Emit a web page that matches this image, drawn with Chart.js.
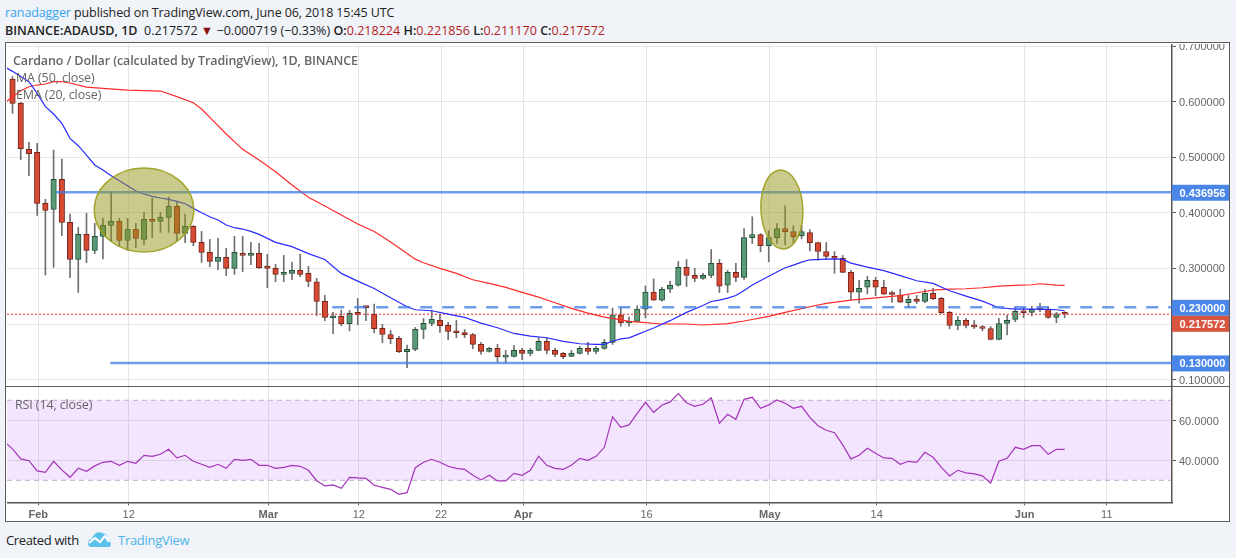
<!DOCTYPE html>
<html>
<head>
<meta charset="utf-8">
<title>ADAUSD</title>
<script src="https://cdn.jsdelivr.net/npm/chart.js@4"></script>
<style>
    html, body { margin: 0; padding: 0; width: 1236px; height: 558px; overflow: hidden; background: #f0f3f7; }
    body { font-family: "Open Sans", sans-serif; color: #222; position: relative; }
    #frame { position: absolute; left: 5px; top: 42px; width: 1223px; height: 478px; background: #fff; border: 1.5px solid #5d5d5d; }
    canvas { position: absolute; }
    #priceChart { left: 7px; top: 44px; }
    #rsiChart { left: 7px; top: 387px; }
    #divider { position: absolute; left: 6px; top: 385.5px; width: 1223px; height: 1.5px; background: #5d5d5d; }
    .head { position: absolute; left: 5px; font-size: 12.5px; white-space: nowrap; }
    .head b { font-weight: 600; color: #222; }
    .red { color: #b01c1c; }
    .over { position: absolute; color: #666; font-size: 12.5px; white-space: nowrap; letter-spacing: -0.12px; }
    #foot1 { position: absolute; left: 6px; top: 531px; font-size: 13px; color: #222; letter-spacing: -0.36px; }
    #foot2 { position: absolute; left: 118px; top: 531px; font-size: 13px; color: #4fb3e8; letter-spacing: -0.28px; }
    #logo { position: absolute; left: 87px; top: 530px; }
</style>
</head>
<body>
<div class="head" style="top:4px;letter-spacing:-0.11px"><span style="color:#37a6ef">ranadagger</span> published on TradingView.com, June 06, 2018 15:45 UTC</div>
<div class="head" style="top:22px;letter-spacing:0.02px"><b>BINANCE:ADAUSD, 1D</b>&nbsp; 0.217572 <span style="color:#8b0f0f">&#9660;</span> &minus;0.000719 (&minus;0.33%) <b>O:</b><span class="red">0.218224</span> <b>H:</b><span class="red">0.221856</span> <b>L:</b><span class="red">0.211170</span> <b>C:</b><span class="red">0.217572</span></div>
<div id="frame"></div>
<canvas id="priceChart"></canvas>
<canvas id="rsiChart"></canvas>
<div id="divider"></div>
<div class="over" style="left:13px;top:52px;font-weight:600">Cardano / Dollar (calculated by TradingView), 1D, BINANCE</div>
<div class="over" style="left:16px;top:69px">MA (50, close)</div>
<div class="over" style="left:16px;top:86px">EMA (20, close)</div>
<div class="over" style="left:15px;top:396px">RSI (14, close)</div>
<div id="foot1">Created with</div>
<svg id="logo" width="25" height="18" viewBox="0 0 25 18">
    <path d="M1 15 C0 11 3 9 5 9 C6 4 11 1 15 3 C18 3 21 6 20 9 C23 10 25 13 23 17 L3 17 Z" fill="#5cc0ea"/>
    <path d="M2 13 L8 8 L13 12 L18 6 L22 12" fill="none" stroke="#fff" stroke-width="2"/>
</svg>
<div id="foot2">TradingView</div>

<script>
// candles, day 0 = Jan 29 2018
const opens = [
    0.6406, 0.5969, 0.5141, 0.5087, 0.4170, 0.4062, 0.4602, 0.3828, 0.3163, 0.3612,
    0.3325, 0.3577, 0.3774, 0.3846, 0.3505, 0.3702, 0.3523, 0.3882, 0.3846, 0.3918,
    0.4116, 0.3631, 0.3756, 0.3469, 0.3289, 0.3127, 0.3199, 0.3001, 0.3271, 0.3235,
    0.3271, 0.3019, 0.3001, 0.2893, 0.2911, 0.2965, 0.2911, 0.2760, 0.2406, 0.2112,
    0.2136, 0.2004, 0.2190, 0.2300, 0.2172, 0.1920, 0.1812, 0.1741, 0.1501, 0.1543,
    0.1902, 0.2010, 0.2064, 0.1974, 0.1866, 0.1848, 0.1812, 0.1633, 0.1507, 0.1561,
    0.1405, 0.1417, 0.1525, 0.1471, 0.1525, 0.1687, 0.1525, 0.1471, 0.1417, 0.1471,
    0.1561, 0.1507, 0.1561, 0.1669, 0.2167, 0.2018, 0.2048, 0.2268, 0.2572, 0.2429,
    0.2625, 0.2697, 0.3018, 0.2875, 0.2822, 0.2875, 0.3090, 0.2697, 0.2929, 0.2840,
    0.3554, 0.3608, 0.3411, 0.3554, 0.3715, 0.3661, 0.3590, 0.3643, 0.3465, 0.3304,
    0.3215, 0.3179, 0.2929, 0.2572, 0.2661, 0.2786, 0.2661, 0.2536, 0.2518, 0.2385,
    0.2442, 0.2406, 0.2550, 0.2460, 0.2208, 0.1973, 0.2064, 0.1973, 0.1937, 0.1919,
    0.1721, 0.2009, 0.2082, 0.2226, 0.2208, 0.2262, 0.2262, 0.2118, 0.2182
];
const highs = [
    0.6450, 0.5990, 0.5267, 0.5249, 0.4242, 0.5129, 0.4967, 0.3978, 0.3738, 0.3990,
    0.3810, 0.3900, 0.4368, 0.3900, 0.3900, 0.3810, 0.4008, 0.4260, 0.4008, 0.4284,
    0.4188, 0.3978, 0.3770, 0.3666, 0.3522, 0.3541, 0.3361, 0.3577, 0.3577, 0.3469,
    0.3451, 0.3253, 0.3073, 0.3235, 0.3109, 0.3253, 0.3037, 0.2820, 0.2514, 0.2208,
    0.2250, 0.2244, 0.2460, 0.2310, 0.2358, 0.1992, 0.1884, 0.1777, 0.1621, 0.1938,
    0.2100, 0.2250, 0.2172, 0.2028, 0.2064, 0.1902, 0.1830, 0.1669, 0.1579, 0.1633,
    0.1525, 0.1615, 0.1561, 0.1561, 0.1753, 0.1753, 0.1561, 0.1489, 0.1525, 0.1597,
    0.1669, 0.1597, 0.1723, 0.2286, 0.2286, 0.2125, 0.2328, 0.2685, 0.2810, 0.2661,
    0.2768, 0.3125, 0.3161, 0.3000, 0.2911, 0.3340, 0.3161, 0.2965, 0.3090, 0.3715,
    0.3929, 0.3625, 0.3679, 0.3804, 0.4125, 0.3768, 0.3768, 0.3697, 0.3475, 0.3465,
    0.3304, 0.3233, 0.2965, 0.2786, 0.2858, 0.2840, 0.2786, 0.2590, 0.2625, 0.2514,
    0.2514, 0.2622, 0.2640, 0.2478, 0.2226, 0.2136, 0.2100, 0.2064, 0.1973, 0.1955,
    0.2100, 0.2154, 0.2298, 0.2298, 0.2316, 0.2370, 0.2316, 0.2208, 0.2219
];
const lows = [
    0.5789, 0.4955, 0.4668, 0.3954, 0.2881, 0.3019, 0.3589, 0.2833, 0.2569, 0.3103,
    0.3265, 0.3169, 0.3481, 0.3391, 0.3325, 0.3373, 0.3427, 0.3553, 0.3649, 0.3649,
    0.3499, 0.3463, 0.3409, 0.3109, 0.3031, 0.2977, 0.2869, 0.2893, 0.2941, 0.3067,
    0.3001, 0.2653, 0.2761, 0.2761, 0.2797, 0.2851, 0.2671, 0.2148, 0.2058, 0.1824,
    0.1968, 0.1878, 0.1986, 0.2058, 0.1842, 0.1662, 0.1645, 0.1483, 0.1213, 0.1519,
    0.1735, 0.1968, 0.1848, 0.1717, 0.1753, 0.1753, 0.1555, 0.1459, 0.1495, 0.1315,
    0.1297, 0.1405, 0.1357, 0.1429, 0.1519, 0.1465, 0.1411, 0.1375, 0.1411, 0.1459,
    0.1453, 0.1465, 0.1543, 0.1633, 0.1959, 0.1959, 0.2036, 0.2108, 0.2423, 0.2411,
    0.2566, 0.2679, 0.2673, 0.2762, 0.2804, 0.2834, 0.2566, 0.2566, 0.2762, 0.2804,
    0.3447, 0.3298, 0.3120, 0.3447, 0.3423, 0.3459, 0.3536, 0.3316, 0.3149, 0.3161,
    0.2911, 0.2923, 0.2435, 0.2375, 0.2542, 0.2506, 0.2530, 0.2387, 0.2387, 0.2298,
    0.2370, 0.2382, 0.2436, 0.2190, 0.1913, 0.1895, 0.1931, 0.1919, 0.1877, 0.1715,
    0.1715, 0.1805, 0.2040, 0.2112, 0.2148, 0.2220, 0.2100, 0.2022, 0.2112
];
const closes = [
    0.5969, 0.5153, 0.5063, 0.4170, 0.4044, 0.4602, 0.3828, 0.3163, 0.3612, 0.3325,
    0.3577, 0.3774, 0.3846, 0.3505, 0.3702, 0.3541, 0.3882, 0.3846, 0.3918, 0.4116,
    0.3631, 0.3756, 0.3469, 0.3289, 0.3127, 0.3199, 0.3001, 0.3289, 0.3235, 0.3271,
    0.3013, 0.3001, 0.2893, 0.2911, 0.2965, 0.2893, 0.2767, 0.2406, 0.2118, 0.2136,
    0.2004, 0.2190, 0.2172, 0.2295, 0.1914, 0.1812, 0.1735, 0.1501, 0.1543, 0.1902,
    0.2010, 0.2082, 0.1968, 0.1866, 0.1842, 0.1806, 0.1633, 0.1507, 0.1561, 0.1411,
    0.1417, 0.1525, 0.1471, 0.1525, 0.1687, 0.1525, 0.1453, 0.1411, 0.1471, 0.1561,
    0.1507, 0.1561, 0.1669, 0.2167, 0.2018, 0.2054, 0.2268, 0.2572, 0.2429, 0.2625,
    0.2697, 0.3018, 0.2875, 0.2822, 0.2875, 0.3090, 0.2679, 0.2929, 0.2840, 0.3554,
    0.3608, 0.3411, 0.3554, 0.3715, 0.3661, 0.3572, 0.3661, 0.3465, 0.3304, 0.3215,
    0.3179, 0.2929, 0.2572, 0.2643, 0.2786, 0.2661, 0.2536, 0.2530, 0.2393, 0.2445,
    0.2406, 0.2550, 0.2454, 0.2202, 0.1973, 0.2064, 0.1973, 0.1949, 0.1919, 0.1721,
    0.2009, 0.2064, 0.2226, 0.2202, 0.2262, 0.2256, 0.2118, 0.2183, 0.2176
];

// EMA 20 (blue) and MA 50 (red), read at these days
const emaDays = [-1, 0, 2, 3, 4, 5, 6, 7, 8, 9, 10, 11, 12, 13, 14, 15, 16, 17, 18, 19, 20, 21, 22, 23, 24, 25, 26, 27, 28, 29, 30, 32, 34, 36,
    38, 40, 42, 44, 46, 48, 49, 51, 53, 55, 57, 59, 61, 63, 65, 67, 69, 71, 72, 73, 74, 75, 76, 77, 78, 80, 82, 84, 85, 86, 87, 88, 89, 90, 92, 94, 95, 96, 97, 99, 100, 101, 102, 104, 106, 108,
    110, 112, 114, 116, 118, 120, 122, 124, 126, 127, 128];
const emaValues = [0.6628, 0.6544, 0.6358, 0.6148, 0.5909, 0.5777, 0.5609, 0.5339, 0.5207, 0.5039, 0.4860, 0.4770, 0.4668, 0.4578, 0.4488, 0.4392, 0.4338, 0.4296, 0.4266, 0.4242, 0.4206, 0.4164, 0.4080, 0.4002, 0.3930, 0.3870, 0.3780, 0.3732, 0.3708, 0.3666, 0.3612, 0.3469, 0.3391, 0.3265,
    0.3161, 0.2910, 0.2772, 0.2640, 0.2472, 0.2310, 0.2256, 0.2238, 0.2178, 0.2118, 0.2016, 0.1932, 0.1830, 0.1783, 0.1753, 0.1687, 0.1645, 0.1633, 0.1633, 0.1690, 0.1733, 0.1751, 0.1810, 0.1870, 0.1929, 0.2060, 0.2209, 0.2334, 0.2405, 0.2429, 0.2465, 0.2512, 0.2602, 0.2703, 0.2858, 0.3012, 0.3060, 0.3114, 0.3155, 0.3167, 0.3173, 0.3161, 0.3096, 0.3024, 0.2959, 0.2869,
    0.2778, 0.2730, 0.2598, 0.2502, 0.2412, 0.2292, 0.2268, 0.2268, 0.2262, 0.2256, 0.2238];
const maDays = [-1, 0, 1, 2, 3, 4, 5, 6, 7, 9, 11, 14, 18, 20, 22, 23, 24, 26, 28, 30, 32, 34, 36, 38, 40, 42,
    44, 46, 48, 49, 50, 52, 54, 56, 58, 60, 62, 64, 66, 68, 70, 72, 73, 75, 77, 79, 82, 84, 87, 89, 92, 94, 97, 99, 102, 105, 108,
    110, 112, 114, 116, 118, 120, 122, 124, 125, 127, 128];
const maValues = [0.5969, 0.6089, 0.6196, 0.6268, 0.6298, 0.6316, 0.6358, 0.6358, 0.6334, 0.6262, 0.6238, 0.6208, 0.6190, 0.6089, 0.5981, 0.5867, 0.5717, 0.5417, 0.5141, 0.4949, 0.4740, 0.4500, 0.4278, 0.4122, 0.3960, 0.3799,
    0.3665, 0.3473, 0.3269, 0.3167, 0.3101, 0.3000, 0.2910, 0.2796, 0.2730, 0.2658, 0.2568, 0.2484, 0.2382, 0.2280, 0.2196, 0.2124, 0.2102, 0.2048, 0.2024, 0.2000, 0.2000, 0.1982, 0.2006, 0.2054, 0.2137, 0.2209, 0.2310, 0.2370, 0.2429, 0.2471, 0.2510,
    0.2562, 0.2610, 0.2628, 0.2634, 0.2652, 0.2682, 0.2694, 0.2706, 0.2724, 0.2700, 0.2694];

// RSI 14, first value is day -1
const rsiValues = [
    49.3, 45.7, 40.7, 39.8, 34.7, 34.0, 39.5, 35.2, 31.5, 36.0, 34.5, 37.2, 39.0, 39.5, 37.5, 39.5, 38.5, 42.5, 42.0, 43.0,
    45.5, 41.2, 42.5, 39.5, 38.0, 36.5, 38.0, 36.0, 40.5, 40.0, 40.5, 37.5, 37.5, 36.0, 36.5, 37.5, 37.0, 35.0, 29.8, 27.2,
    27.7, 26.0, 31.5, 31.2, 31.0, 27.5, 26.5, 25.5, 23.0, 23.8, 36.3, 39.0, 40.5, 39.0, 37.0, 36.0, 35.5, 32.5, 30.2, 32.5,
    29.7, 29.7, 33.5, 32.5, 35.0, 42.0, 37.5, 36.0, 35.5, 37.5, 41.0, 40.0, 42.0, 46.5, 61.8, 56.5, 57.7, 63.5, 69.0, 64.0,
    67.5, 69.2, 73.3, 68.8, 67.0, 68.0, 71.3, 58.5, 63.0, 60.5, 70.5, 71.5, 66.0, 67.7, 70.2, 68.5, 66.0, 67.0, 61.5, 57.3,
    55.0, 53.8, 47.7, 40.7, 42.5, 46.0, 43.5, 41.2, 41.0, 38.0, 39.5, 39.0, 44.0, 41.5, 36.5, 32.2, 35.0, 33.7, 33.2, 32.2,
    28.5, 39.5, 41.0, 46.5, 45.5, 47.3, 47.3, 43.0, 45.5, 45.5
];

// axis ticks
const tickDays = [3, 14, 31, 42, 52, 62, 77, 92, 105, 123, 133];
const tickLabels = ['Feb', '12', 'Mar', '12', '22', 'Apr', '16', 'May', '14', 'Jun', '11'];
const monthLabels = ['Feb', 'Mar', 'Apr', 'May', 'Jun'];
const priceTicks = [0.1, 0.2, 0.3, 0.4, 0.5, 0.6, 0.7];
const rsiTicks = [40, 60];

// drawn levels
const levelValues = [0.436956, 0.23, 0.13];
const levelStartDays = [5.3, 38.9, 11.9];
const lastPrice = 0.217572;
const rsiBand = [30, 70];

// highlighted areas: day, price, radius in days, radius in price
const circleDays = [16.0, 93.6];
const circlePrices = [0.405, 0.4059];
const circleDayRadius = [6.05, 2.55];
const circlePriceRadius = [0.0755, 0.071];

const xMin = -0.67;
const xMax = 141.06;
const tickShift = 0.13; // gridlines sit about 1px right of the candle
const axisWidth = 57;

const grey = '#666666';
const gridColor = '#e6e6e6';
const axisColor = '#555555';
const up = '#5b9a78', upDark = '#245238';
const down = '#d64a34', downDark = '#76241a';
const levelColor = 'rgba(62,124,232,0.75)';

const days = opens.map((_, i) => i);
const isUp = i => closes[i] >= opens[i];

function flat(value, from, to) {
    return [{x: from, y: value}, {x: to, y: value}];
}

function fixAxis(scale, w, h) {
    if (w !== null) scale.width = w;
    if (h !== null) scale.height = h;
    scale.paddingLeft = scale.paddingRight = scale.paddingTop = scale.paddingBottom = 0;
}

function xTicks(scale) {
    scale.ticks = tickDays.map(d => ({value: d + tickShift}));
}

// tags on the price axis, pushed down when they would overlap
const tagPlugin = {
    id: 'tags',
    afterDatasetsDraw(chart) {
        const ctx = chart.ctx, y = chart.scales.y, right = chart.width;
        const tags = [
            {v: levelValues[0], c: '#4a86e8'},
            {v: levelValues[1], c: '#4a86e8'},
            {v: lastPrice, c: '#d8563f'},
            {v: levelValues[2], c: '#4a86e8'}
        ];
        let last = -100;
        ctx.save();
        ctx.font = 'bold 11px "Liberation Sans"';
        ctx.textBaseline = 'middle';
        tags.forEach(t => {
            let py = y.getPixelForValue(t.v) + 0.5;
            if (py - 8 < last) py = last + 8;
            last = py + 8;
            ctx.fillStyle = t.c;
            ctx.fillRect(y.left, py - 8, right - y.left, 16);
            ctx.fillStyle = '#fff';
            ctx.fillText(t.v.toFixed(6), y.left + 7.5, py + 1);
        });
        ctx.restore();
    }
};

const circlePlugin = {
    id: 'circles',
    afterDatasetsDraw(chart) {
        const ctx = chart.ctx, x = chart.scales.x, y = chart.scales.y;
        ctx.save();
        ctx.fillStyle = 'rgba(150,150,25,0.5)';
        ctx.strokeStyle = 'rgba(160,160,35,0.95)';
        ctx.lineWidth = 1.5;
        circleDays.forEach((d, i) => {
            const cx = x.getPixelForValue(d), cy = y.getPixelForValue(circlePrices[i]);
            const rx = x.getPixelForValue(d + circleDayRadius[i]) - cx;
            const ry = cy - y.getPixelForValue(circlePrices[i] + circlePriceRadius[i]);
            ctx.beginPath();
            ctx.ellipse(cx, cy, rx, ry, i === 1 ? -0.05 : 0, 0, Math.PI * 2);
            ctx.fill();
            ctx.stroke();
        });
        ctx.restore();
    }
};

const priceCanvas = document.getElementById('priceChart');
priceCanvas.width = 1222; priceCanvas.height = 342;
priceCanvas.style.width = '1222px'; priceCanvas.style.height = '342px';

const lineBase = {type: 'line', pointRadius: 0, fill: false, tension: 0};

const priceChart = new Chart(priceCanvas, {
    type: 'bar',
    data: {
        datasets: [
            {
                label: 'wick',
                data: days.map(i => ({x: i, y: [lows[i], highs[i]]})),
                backgroundColor: '#707070',
                barThickness: 1,
                grouped: false,
                order: 5
            },
            {
                label: 'body',
                data: days.map(i => ({x: i, y: [Math.min(opens[i], closes[i]), Math.max(opens[i], closes[i])]})),
                backgroundColor: days.map(i => isUp(i) ? up : down),
                borderColor: days.map(i => isUp(i) ? upDark : downDark),
                borderWidth: 1,
                borderSkipped: false,
                barThickness: 5.5,
                minBarLength: 2,
                grouped: false,
                order: 4
            },
            {...lineBase, label: 'MA (50, close)', data: maDays.map((d, i) => ({x: d, y: maValues[i]})), borderColor: '#ff2b2b', borderWidth: 1.2, order: 3},
            {...lineBase, label: 'EMA (20, close)', data: emaDays.map((d, i) => ({x: d, y: emaValues[i]})), borderColor: '#2b2bff', borderWidth: 1.2, order: 2},
            {...lineBase, label: 'last', data: flat(lastPrice, xMin, xMax), borderColor: '#e8281a', borderWidth: 1, borderDash: [2, 2], order: 2},
            {...lineBase, label: 'resistance', data: flat(levelValues[0], levelStartDays[0], xMax), borderColor: levelColor, borderWidth: 2.5, order: 1},
            {...lineBase, label: 'pivot', data: flat(levelValues[1], levelStartDays[1], xMax), borderColor: levelColor, borderWidth: 2.5, borderDash: [12, 10], order: 1},
            {...lineBase, label: 'support', data: flat(levelValues[2], levelStartDays[2], xMax), borderColor: levelColor, borderWidth: 2.5, order: 1}
        ]
    },
    options: {
        responsive: false,
        animation: false,
        layout: {padding: 0},
        plugins: {legend: {display: false}, tooltip: {enabled: false}},
        scales: {
            x: {
                type: 'linear',
                min: xMin,
                max: xMax,
                offset: false,
                afterBuildTicks: xTicks,
                afterFit: s => fixAxis(s, null, 0),
                grid: {color: gridColor, offset: false, drawTicks: false},
                ticks: {display: false},
                border: {display: false}
            },
            y: {
                position: 'right',
                min: 0.0885,
                max: 0.7036,
                afterBuildTicks: s => { s.ticks = priceTicks.map(v => ({value: v})); },
                afterFit: s => fixAxis(s, axisWidth, null),
                grid: {color: gridColor, tickColor: axisColor, tickLength: 4},
                border: {color: axisColor, width: 1.5},
                ticks: {
                    color: grey,
                    padding: 3,
                    labelOffset: 1,
                    font: {family: '"Liberation Sans"', size: 11},
                    callback: v => v.toFixed(6)
                }
            }
        }
    },
    plugins: [circlePlugin, tagPlugin]
});

const rsiCanvas = document.getElementById('rsiChart');
rsiCanvas.width = 1222; rsiCanvas.height = 134;
rsiCanvas.style.width = '1222px'; rsiCanvas.style.height = '134px';

const rsiChart = new Chart(rsiCanvas, {
    type: 'line',
    data: {
        datasets: [
            {label: 'RSI (14, close)', data: rsiValues.map((v, i) => ({x: i - 1, y: v})), borderColor: '#a433b8', borderWidth: 1.2, pointRadius: 0, fill: false, tension: 0, order: 1},
            {label: 'upper', data: flat(rsiBand[1], xMin, xMax - 0.15), borderColor: '#c2aecb', borderWidth: 1, borderDash: [5, 4], pointRadius: 0, fill: '+1', backgroundColor: 'rgba(152,0,255,0.1)', order: 2},
            {label: 'lower', data: flat(rsiBand[0], xMin, xMax - 0.15), borderColor: '#c2aecb', borderWidth: 1, borderDash: [5, 4], pointRadius: 0, fill: false, order: 2}
        ]
    },
    options: {
        responsive: false,
        animation: false,
        layout: {padding: 0},
        plugins: {legend: {display: false}, tooltip: {enabled: false}},
        scales: {
            x: {
                type: 'linear',
                min: xMin,
                max: xMax,
                afterBuildTicks: xTicks,
                afterFit: s => fixAxis(s, null, 18.7),
                grid: {color: gridColor, tickColor: axisColor, tickLength: 3},
                border: {color: axisColor, width: 1.5},
                ticks: {
                    autoSkip: false,
                    maxRotation: 0,
                    padding: 3,
                    color: grey,
                    font: c => ({family: '"Liberation Sans"', size: 11, weight: monthLabels.includes(tickLabels[c.index]) ? 'bold' : 'normal'}),
                    callback: (v, i) => tickLabels[i]
                }
            },
            y: {
                position: 'right',
                min: 19,
                max: 76.65,
                afterBuildTicks: s => { s.ticks = rsiTicks.map(v => ({value: v})); },
                afterFit: s => fixAxis(s, axisWidth, null),
                grid: {color: gridColor, tickColor: axisColor, tickLength: 4},
                border: {color: axisColor, width: 1.5},
                ticks: {
                    color: grey,
                    padding: 3,
                    labelOffset: 1.5,
                    font: {family: '"Liberation Sans"', size: 11},
                    callback: v => v.toFixed(4)
                }
            }
        }
    }
});
</script>
</body>
</html>
